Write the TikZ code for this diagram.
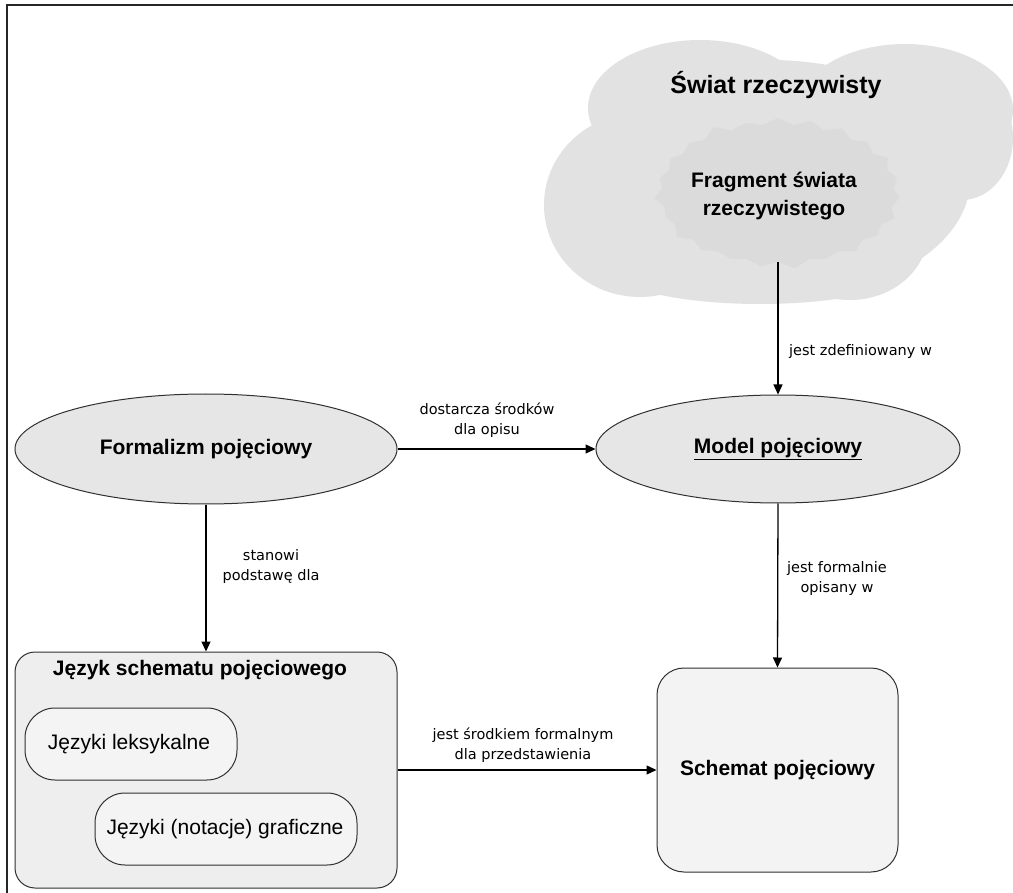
\documentclass[tikz,border=0pt]{standalone}
\usepackage{fontspec}
\setmainfont{Liberation Sans}
\newfontfamily\labfont{DejaVu Sans}
\usetikzlibrary{arrows.meta,shapes.geometric,shapes.symbols}
\definecolor{cloudgray}{HTML}{E2E2E2}
\definecolor{burstgray}{HTML}{DBDBDB}
\definecolor{ellgray}{HTML}{E6E6E6}
\definecolor{boxgray}{HTML}{EEEEEE}
\definecolor{innergray}{HTML}{F4F4F4}
\definecolor{schgray}{HTML}{F3F3F3}
\definecolor{edgegray}{HTML}{303030}
\tikzset{
  arr/.style={-{Triangle[length=10pt,width=9pt]}, line width=1.3pt, draw=black},
  lbl/.style={font=\labfont\fontsize{14.5}{20}\selectfont, align=center, inner sep=0pt},
  oval/.style={ellipse, draw=edgegray, line width=1pt, fill=ellgray, inner sep=0pt,
               font=\fontsize{21}{26}\selectfont\bfseries},
  roundbox/.style={rectangle, draw=edgegray, line width=1pt, inner sep=0pt},
  bigtext/.style={font=\fontsize{21}{28}\selectfont\bfseries, align=center, inner sep=0pt},
  smalltext/.style={font=\fontsize{21}{26}\selectfont, inner sep=0pt}
}
\begin{document}
\begin{tikzpicture}[x=1pt,y=-1pt]
\useasboundingbox (0,0) rectangle (1013,893);
\fill[white] (0,0) rectangle (1013,893);
% frame
\draw[line width=2pt, black!85] (1013,5) -- (7,5) -- (7,893);
% cloud
\fill[cloudgray] (770,180) ellipse [x radius=200, y radius=120];
\fill[cloudgray] (640,205) ellipse [x radius=96, y radius=92];
\fill[cloudgray] (700,108) ellipse [x radius=112, y radius=68];
\fill[cloudgray] (905,110) ellipse [x radius=108, y radius=66];
\fill[cloudgray] (850,232) ellipse [x radius=78, y radius=68];
\fill[cloudgray] (760,268) ellipse [x radius=150, y radius=36];
\fill[cloudgray] (962,138) ellipse [x radius=51, y radius=62];
% starburst
\node[starburst, starburst points=23, starburst point height=9pt, fill=burstgray,
      minimum width=250pt, minimum height=155pt, inner sep=0pt] (frag) at (778,193) {};
\node[bigtext] (fragtext) at (774,196) {Fragment świata\\rzeczywistego};
\node[font=\fontsize{25}{30}\selectfont\bfseries, inner sep=0pt] (swiat) at (776,85) {Świat rzeczywisty};
% ellipses
\node[oval, minimum width=382pt, minimum height=110pt] (formal) at (206,449) {Formalizm pojęciowy};
\node[oval, minimum width=364pt, minimum height=108pt] (model) at (778,449) {\underline{Model pojęciowy}};
% language box
\node[roundbox, fill=boxgray, rounded corners=20pt, minimum width=382pt, minimum height=236pt] (jezyk) at (206,770) {};
\node[bigtext] (jezyktitle) at (200,670) {Język schematu pojęciowego};
\node[roundbox, fill=innergray, rounded corners=30pt, minimum width=212pt, minimum height=72pt] (leks) at (131,744) {};
\node[smalltext] (lekstext) at (129,744) {Języki leksykalne};
\node[roundbox, fill=innergray, rounded corners=30pt, minimum width=262pt, minimum height=72pt] (graf) at (226,829) {};
\node[smalltext] (graftext) at (225,829) {Języki (notacje) graficzne};
% schema box
\node[roundbox, fill=schgray, rounded corners=27pt, minimum width=241pt, minimum height=204pt,
      font=\fontsize{21}{26}\selectfont\bfseries] (schemat) at (777.5,770) {Schemat pojęciowy};
% connectors
\draw[arr] (frag.south) -- (model.north);
\draw[arr] (formal.east) -- (model.west);
\draw[arr] (formal.south) -- (jezyk.north);
\draw[arr] (model.south) -- (schemat.north);
\draw[arr] (jezyk.east) -- (schemat.west);
% labels
\node[lbl, anchor=west] (l1) at (789,352) {jest zdefiniowany w};
\node[lbl] (l2) at (487,420) {dostarcza środków\\dla opisu};
\node[lbl] (l3) at (271,566) {stanowi\\podstawę dla};
\node[lbl] (l4) at (837,578) {jest formalnie\\opisany w};
\node[lbl] (l5) at (523,745) {jest środkiem formalnym\\dla przedstawienia};
\end{tikzpicture}
\end{document}
